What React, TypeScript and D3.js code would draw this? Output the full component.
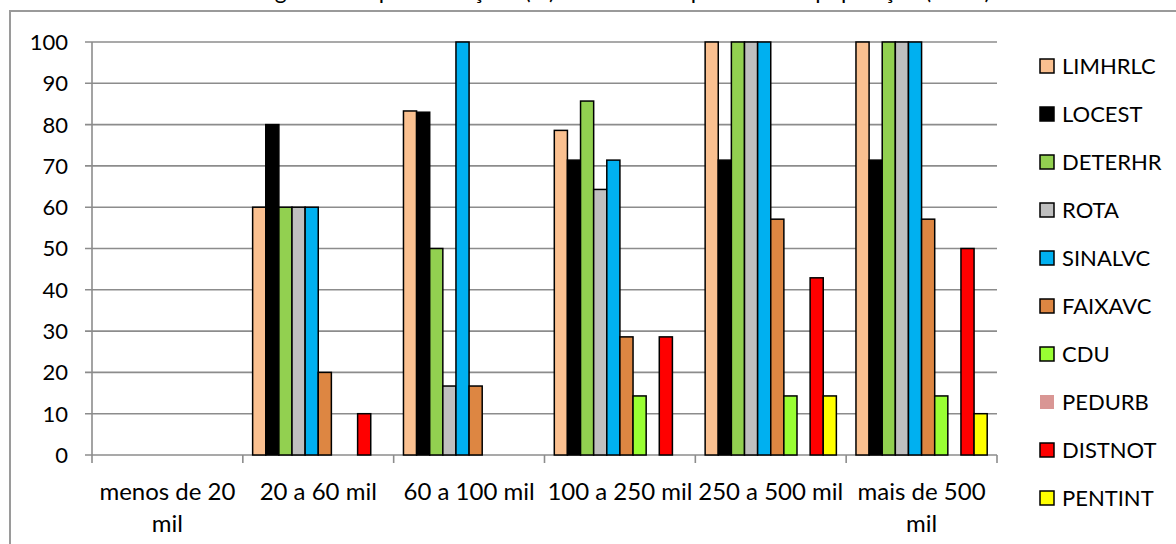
import React from "react";
import * as d3 from "d3";

const categories = ["menos de 20 mil", "20 a 60 mil", "60 a 100 mil", "100 a 250 mil", "250 a 500 mil", "mais de 500 mil"];
const categoryLines = [["menos de 20", "mil"], ["20 a 60 mil"], ["60 a 100 mil"], ["100 a 250 mil"], ["250 a 500 mil"], ["mais de 500", "mil"]];
const seriesNames = ["LIMHRLC", "LOCEST", "DETERHR", "ROTA", "SINALVC", "FAIXAVC", "CDU", "PEDURB", "DISTNOT", "PENTINT"];
const seriesColors = ["#FAC090", "#000000", "#92D050", "#BFBFBF", "#00B0F0", "#DD8642", "#99FF33", "#D99694", "#FF0000", "#FFFF00"];

// one array per series, values per population band (%)
const LIMHRLC = [0, 60, 83.3, 78.6, 100, 100];
const LOCEST = [0, 80, 83.0, 71.4, 71.4, 71.4];
const DETERHR = [0, 60, 50, 85.7, 100, 100];
const ROTA = [0, 60, 16.7, 64.3, 100, 100];
const SINALVC = [0, 60, 100, 71.4, 100, 100];
const FAIXAVC = [0, 20, 16.7, 28.6, 57.1, 57.1];
const CDU = [0, 0, 0, 14.3, 14.3, 14.3];
const PEDURB = [0, 0, 0, 0, 0, 0];
const DISTNOT = [0, 10, 0, 28.6, 42.9, 50];
const PENTINT = [0, 0, 0, 0, 14.3, 10];
const seriesValues = [LIMHRLC, LOCEST, DETERHR, ROTA, SINALVC, FAIXAVC, CDU, PEDURB, DISTNOT, PENTINT];

const yTicks = [0, 10, 20, 30, 40, 50, 60, 70, 80, 90, 100];
const title = "Porcentagem de implementações (%) das medidas por faixa de população (2010)";

const W = 1176;
const H = 544;
const left = 92;
const right = 997;
const top = 42;
const bottom = 455;
const font = "Lato, 'Open Sans', sans-serif";
const gridColor = "#8C8C8C";

export default function App() {
  const x = d3.scaleBand<string>().domain(categories).range([left, right]).paddingInner(0.13).paddingOuter(0.065);
  const xs = d3.scaleBand<string>().domain(seriesNames).range([0, x.bandwidth()]).padding(0);
  const y = d3.scaleLinear().domain([0, 100]).range([bottom, top]);
  const step = (right - left) / categories.length;
  const bounds = d3.range(categories.length + 1).map((i) => left + i * step);

  return (
    <svg width={W} height={H} style={{ position: "absolute", left: 0, top: 0, background: "#fff" }}>
      <text x={W / 2} y={-1} textAnchor="middle" fontFamily={font} fontSize={23} fill="#000">{title}</text>
      {/* chart frame */}
      <path d={`M10,${H + 5} L10,11 L${W + 5},11`} fill="none" stroke="#9A9A9A" strokeWidth={2} />

      {/* gridlines and y ticks */}
      {yTicks.map((t) => (
        <g key={t}>
          <line x1={left - 7} x2={right} y1={y(t)} y2={y(t)} stroke={gridColor} strokeWidth={1.6} />
          <text x={68} y={y(t)} dy="0.36em" textAnchor="end" fontFamily={font} fontSize={22} fill="#000">{t}</text>
        </g>
      ))}
      <line x1={left} x2={left} y1={top} y2={bottom} stroke={gridColor} strokeWidth={1.6} />
      {bounds.map((b, i) => (
        <line key={i} x1={b} x2={b} y1={bottom} y2={bottom + 8} stroke={gridColor} strokeWidth={1.6} />
      ))}

      {/* bars */}
      {categories.map((c, ci) => (
        <g key={c}>
          {seriesNames.map((s, si) => {
            const v = seriesValues[si][ci];
            if (!v) return null;
            return (
              <rect key={s} x={(x(c) as number) + (xs(s) as number)} y={y(v)} width={xs.bandwidth()} height={y(0) - y(v)}
                fill={seriesColors[si]} stroke="#000" strokeWidth={1.5} />
            );
          })}
        </g>
      ))}

      {/* category labels */}
      {categories.map((c, ci) => (
        <text key={c} textAnchor="middle" fontFamily={font} fontSize={24} fill="#000">
          {categoryLines[ci].map((ln, li) => (
            <tspan key={li} x={(x(c) as number) + x.bandwidth() / 2} y={500 + li * 32}>{ln}</tspan>
          ))}
        </text>
      ))}

      {/* legend */}
      {seriesNames.map((s, si) => {
        const cy = 66 + si * 48;
        const noStroke = s === "PEDURB";
        return (
          <g key={s}>
            <rect x={1040} y={cy - 7} width={14} height={14} fill={seriesColors[si]}
              stroke={noStroke ? "none" : "#000"} strokeWidth={1.5} />
            <text x={1062} y={cy} dy="0.36em" fontFamily={font} fontSize={22} fill="#000">{s}</text>
          </g>
        );
      })}
    </svg>
  );
}
